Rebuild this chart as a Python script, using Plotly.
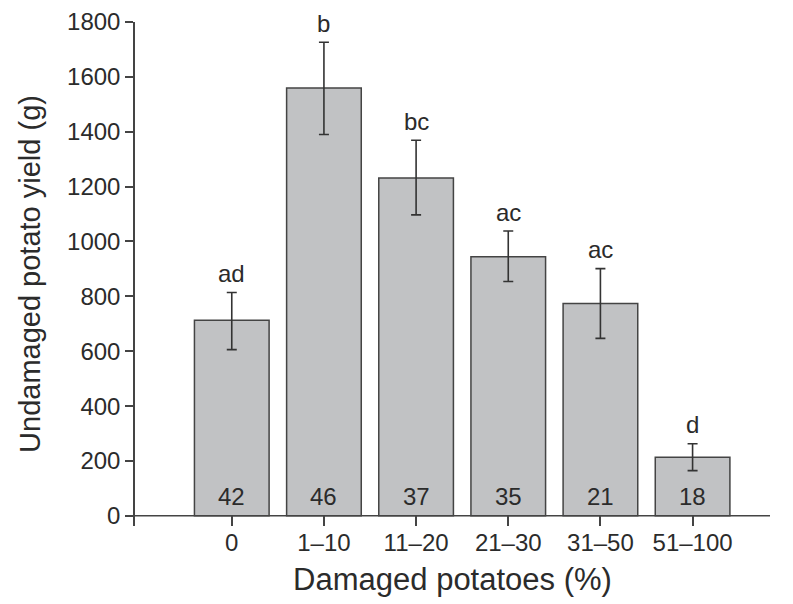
import plotly.graph_objects as go

categories = ["0", "1\u201310", "11\u201320", "21\u201330", "31\u201350", "51\u2013100"]
yield_means = [713, 1559, 1231, 944, 774, 214]
err_upper = [814, 1726, 1369, 1038, 901, 263]
err_lower = [606, 1390, 1097, 854, 647, 165]
sig_letters = ["ad", "b", "bc", "ac", "ac", "d"]
sample_sizes = [42, 46, 37, 35, 21, 18]

x_idx = list(range(len(categories)))
plus = [u - m for u, m in zip(err_upper, yield_means)]
minus = [m - l for m, l in zip(yield_means, err_lower)]

FONT = "Liberation Sans, Arial, Helvetica, sans-serif"
TXT = "#2b2b2b"

fig = go.Figure()
fig.add_trace(go.Bar(
    x=x_idx, y=yield_means, width=0.81,
    marker=dict(color="#c1c2c4", line=dict(color="#444444", width=1.5)),
    error_y=dict(type="data", symmetric=False, array=plus, arrayminus=minus,
                 color="#333333", thickness=1.6, width=5),
    showlegend=False, hoverinfo="skip",
))

for i, (u, lab, n) in enumerate(zip(err_upper, sig_letters, sample_sizes)):
    fig.add_annotation(x=i, y=u, text=lab, showarrow=False, yanchor="middle",
                       yshift=19, font=dict(family=FONT, size=24, color=TXT))
    fig.add_annotation(x=i, y=0, text=str(n), showarrow=False, yanchor="bottom",
                       yshift=4, font=dict(family=FONT, size=24, color=TXT))

fig.add_shape(type="line", xref="paper", x0=-0.012, x1=1, yref="y", y0=0, y1=0,
              line=dict(color="#444444", width=1.5))

fig.update_layout(
    width=785, height=596,
    margin=dict(l=127, r=23, t=14, b=78),
    paper_bgcolor="white", plot_bgcolor="white",
    font=dict(family=FONT, color=TXT),
)
fig.update_xaxes(
    range=[-1.05, 5.84], automargin=False,
    tickmode="array", tickvals=x_idx, ticktext=categories,
    ticks="inside", ticklen=10, tickwidth=1.5, tickcolor="#444444",
    showline=False, showgrid=False, zeroline=False,
    tickfont=dict(family=FONT, size=24, color=TXT),
    title=dict(text="Damaged potatoes (%)", font=dict(family=FONT, size=31, color=TXT), standoff=13),
)
fig.update_yaxes(
    range=[-37, 1800], automargin=False,
    tickmode="array", tickvals=list(range(0, 1801, 200)),
    ticks="outside", ticklen=8, tickwidth=1.5, tickcolor="#444444",
    showline=True, linecolor="#444444", linewidth=1.5,
    showgrid=False, zeroline=False,
    tickfont=dict(family=FONT, size=24, color=TXT),
    title=dict(text="Undamaged potato yield (g)", font=dict(family=FONT, size=29, color=TXT), standoff=18),
)

fig.write_html("out.html")
